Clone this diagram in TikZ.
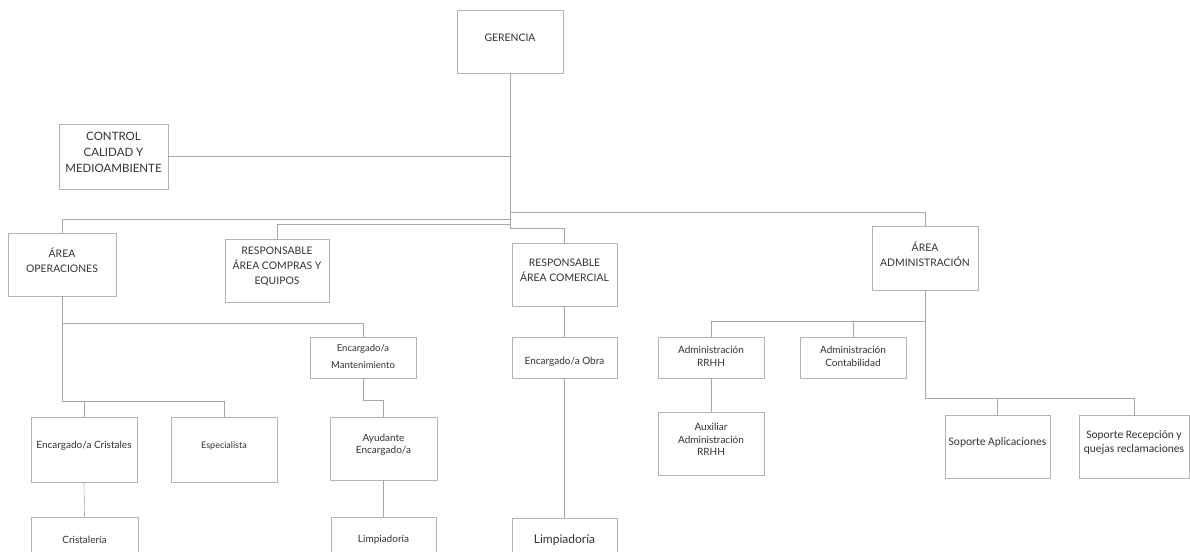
\documentclass[tikz,border=0pt]{standalone}
\usepackage{fontspec}
\setmainfont{Lato}
\newfontfamily\calib{Carlito}
\definecolor{boxline}{HTML}{B4B4B4}
\definecolor{conn}{HTML}{A8A8A8}
\definecolor{ink}{HTML}{333333}
\tikzset{
  orgbox/.style={draw=boxline, line width=0.6pt, rectangle, inner sep=0pt},
  orgtxt/.style={text=ink, align=center, font=\fontsize{10}{12.5}\selectfont, inner sep=0pt},
  captxt/.style={orgtxt, font=\fontsize{10.4}{15}\selectfont},
  soptxt/.style={orgtxt, font=\calib\fontsize{11.5}{13.5}\selectfont},
  link/.style={draw=conn, line width=0.6pt}
}
% name, left, right, top, bottom, style, text
\newcommand{\obox}[7]{%
  \node[orgbox, minimum width={(#3-#2)*1pt}, minimum height={(#5-#4)*1pt}] (#1) at ({(#2+#3)/2},{(#4+#5)/2}) {};
  \node[#6] (#1t) at ([yshift=4pt]#1.center) {#7};}
\begin{document}
\begin{tikzpicture}[x=1pt,y=-1pt]
\useasboundingbox (0,0) rectangle (1190,551);
\clip (0,0) rectangle (1190,551);
\fill[white] (0,0) rectangle (1190,551);
% boxes
\obox{ger}{457}{563}{10}{73}{captxt}{GERENCIA}
\obox{ctrl}{59}{168}{124}{189}{captxt, font=\fontsize{11.5}{16}\selectfont}{CONTROL\\CALIDAD Y\\MEDIOAMBIENTE}
\obox{op}{8}{116}{233}{296}{captxt}{ÁREA\\OPERACIONES}
\obox{comp}{225}{329}{239}{302}{captxt}{RESPONSABLE\\ÁREA COMPRAS Y\\EQUIPOS}
\obox{com}{512}{617}{243}{306}{captxt}{RESPONSABLE\\ÁREA COMERCIAL}
\obox{adm}{872}{978}{226}{290}{captxt}{ÁREA\\ADMINISTRACIÓN}
\obox{mant}{310}{416}{337}{378}{orgtxt, yshift=-3pt, font=\fontsize{9.5}{17}\selectfont}{Encargado/a\\Mantenimiento}
\obox{obra}{512}{617}{337}{378}{orgtxt, yshift=-8pt}{Encargado/a Obra}
\obox{rrhh}{658}{764}{337}{378}{orgtxt, yshift=-3pt}{Administración\\RRHH}
\obox{cont}{800}{906}{337}{378}{orgtxt, yshift=-3pt}{Administración\\Contabilidad}
\obox{cris}{31}{137}{417}{482}{orgtxt}{Encargado/a Cristales}
\obox{esp}{171}{277}{417}{482}{orgtxt, font=\fontsize{9}{11}\selectfont}{Especialista}
\obox{ayu}{330}{437}{417}{480}{orgtxt}{Ayudante\\Encargado/a}
\obox{aux}{658}{764}{412}{475}{orgtxt}{Auxiliar\\Administración\\RRHH}
\obox{sapl}{945}{1050}{415}{478}{soptxt}{Soporte Aplicaciones}
\obox{srec}{1079}{1189}{415}{478}{soptxt}{Soporte Recepción y\\quejas reclamaciones}
\obox{cristal}{31}{138}{517}{570}{orgtxt}{Cristalería}
\obox{limpa}{331}{436}{517}{570}{orgtxt}{Limpiadoría}
\obox{limpb}{512}{617}{518}{570}{orgtxt, font=\fontsize{12}{14}\selectfont}{Limpiadoría}
% junction coordinates
\coordinate (jctrl) at (510,156.5);
\coordinate (jadm) at (510,212);
\coordinate (jop) at (510,219);
\coordinate (jcomp) at (510,224);
\coordinate (jcom) at (510,228);
\coordinate (opA) at (62,323);
\coordinate (opB) at (62,401);
\coordinate (mantA) at (363,400);
\coordinate (admA) at (925,321);
\coordinate (admB) at (925,398);
% connectors
\draw[link] (ger.south) -- (jcom);
\draw[link] (ctrl.east) -- (jctrl);
\draw[link] (op.north) |- (jop);
\draw[link] (comp.north) |- (jcomp);
\draw[link] (com.north) |- (jcom);
\draw[link] (adm.north) |- (jadm);
\draw[link] (op.south) -- (opB);
\draw[link] (mant.north) |- (opA);
\draw[link] (cris.north) |- (opB);
\draw[link] (esp.north) |- (opB);
\draw[link] (mant.south) -- (mantA) -| (ayu.north);
\draw[link] (ayu.south) -- (limpa.north);
\draw[link] (cris.south) -- (cristal.north);
\draw[link] (com.south) -- (obra.north);
\draw[link] (obra.south) -- (limpb.north);
\draw[link] (adm.south) -- (admB);
\draw[link] (rrhh.north) |- (admA);
\draw[link] (cont.north) |- (admA);
\draw[link] (sapl.north) |- (admB);
\draw[link] (srec.north) |- (admB);
\draw[link] (rrhh.south) -- (aux.north);
\end{tikzpicture}
\end{document}
